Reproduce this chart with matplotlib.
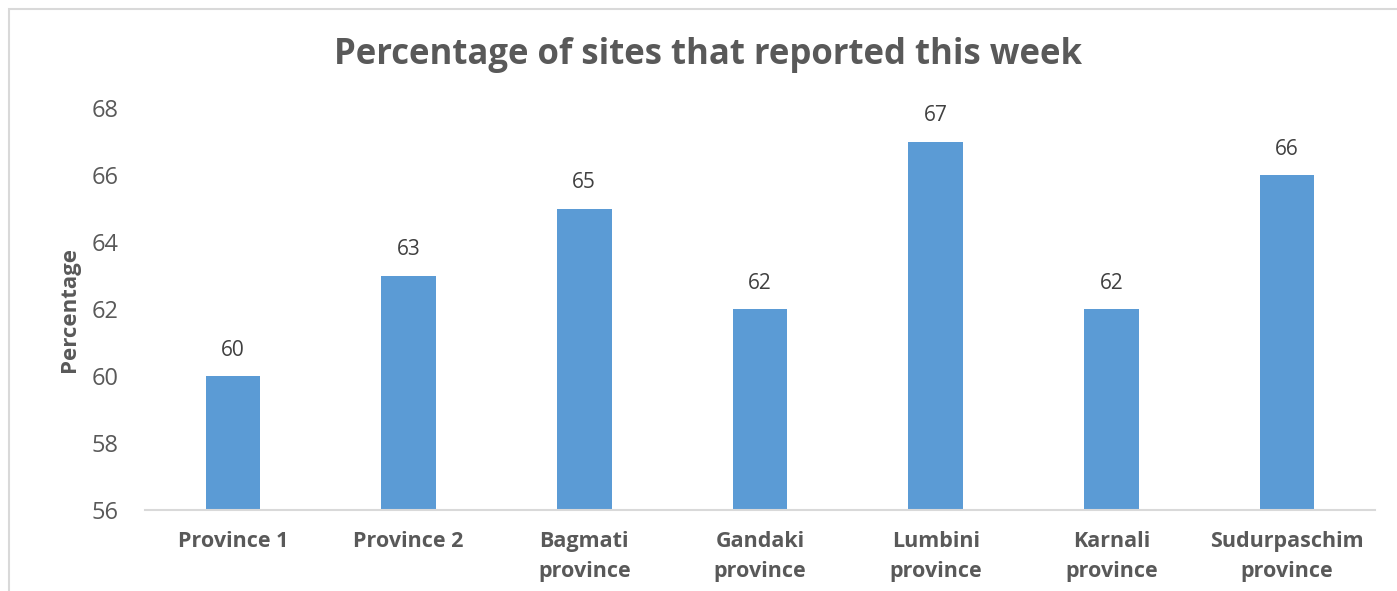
import matplotlib.pyplot as plt
from matplotlib.patches import Rectangle

plt.rcParams['font.family'] = ['Open Sans', 'DejaVu Sans']

provinces = ['Province 1', 'Province 2', 'Bagmati\nprovince', 'Gandaki\nprovince',
             'Lumbini\nprovince', 'Karnali\nprovince', 'Sudurpaschim\nprovince']
percent = [60, 63, 65, 62, 67, 62, 66]
yticks = [56, 58, 60, 62, 64, 66, 68]

fig = plt.figure(figsize=(13.97, 5.91), dpi=100)
ax = fig.add_axes([145 / 1397, 1 - 510 / 591, 1230 / 1397, 402 / 591])

x = range(len(provinces))
ax.bar(x, percent, width=0.31, color='#5B9BD5', zorder=2)
ax.set_ylim(56, 68)
ax.set_xlim(-0.5, len(provinces) - 0.5)
ax.set_yticks(yticks)
ax.set_xticks(list(x))
ax.set_xticklabels(provinces, fontsize=15.5, fontweight='bold', color='#595959',
                   linespacing=1.55)
ax.tick_params(axis='y', labelsize=17, labelcolor='#595959', length=0, pad=19)
ax.tick_params(axis='x', length=0, pad=15)

for s in ['top', 'right', 'left']:
    ax.spines[s].set_visible(False)
ax.spines['bottom'].set_color('#D9D9D9')
ax.spines['bottom'].set_linewidth(1.5)

for xi, v in zip(x, percent):
    ax.annotate(str(v), (xi, v), xytext=(0, 11), textcoords='offset points',
                ha='center', va='bottom', fontsize=15, color='#404040')

ax.set_ylabel('Percentage', fontsize=16, fontweight='bold', color='#595959', labelpad=8)
fig.text(0.507, 1 - 55 / 591, 'Percentage of sites that reported this week',
         ha='center', va='center', fontsize=25, fontweight='bold', color='#595959')

fig.patches.append(Rectangle((9 / 1397, -0.05), 1.1, 1 - 9 / 591 + 0.05,
                             transform=fig.transFigure, fill=False,
                             edgecolor='#D9D9D9', linewidth=1.5))

fig.savefig('out.png', dpi=100)
